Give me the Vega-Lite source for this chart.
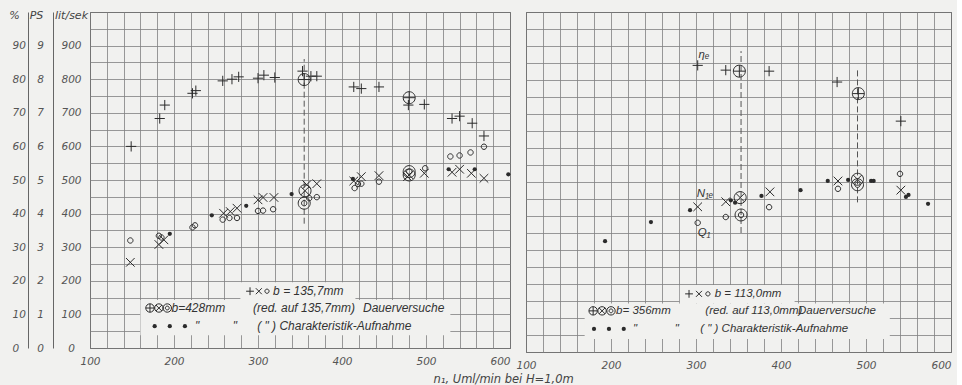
{
  "$schema": "https://vega.github.io/schema/vega-lite/v6.json",
  "background": "#f1f1ef",
  "padding": {"left": 8, "top": 6, "right": 5, "bottom": 2},
  "spacing": 16,
  "bounds": "flush",
  "config": {
    "view": {"stroke": "#444", "strokeWidth": 1},
    "axis": {"labelFont": "DejaVu Sans", "labelFontStyle": "italic", "labelColor": "#555", "labelFontSize": 10.5, "ticks": false, "domain": false, "gridColor": "#808080", "gridWidth": 0.8, "gridOpacity": 1, "titleFont": "DejaVu Sans", "titleFontStyle": "italic", "titleFontWeight": "normal", "titleColor": "#444", "titleFontSize": 11, "labelOverlap": false},
    "text": {"font": "Liberation Sans", "fontStyle": "italic", "color": "#333"}
  },
  "datasets": {
    "Lpts": [
      {"s": "plus", "n": 149, "v": 600}, {"s": "plus", "n": 183, "v": 683}, {"s": "plus", "n": 189, "v": 723}, {"s": "plus", "n": 222, "v": 758}, {"s": "plus", "n": 226, "v": 766}, {"s": "plus", "n": 258, "v": 795}, {"s": "plus", "n": 269, "v": 800}, {"s": "plus", "n": 277, "v": 807}, {"s": "plus", "n": 300, "v": 803}, {"s": "plus", "n": 307, "v": 812}, {"s": "plus", "n": 320, "v": 805}, {"s": "plus", "n": 353, "v": 824}, {"s": "plus", "n": 363, "v": 809}, {"s": "plus", "n": 370, "v": 809}, {"s": "plus", "n": 414, "v": 777}, {"s": "plus", "n": 423, "v": 772}, {"s": "plus", "n": 444, "v": 777}, {"s": "plus", "n": 479, "v": 723}, {"s": "plus", "n": 498, "v": 725}, {"s": "plus", "n": 531, "v": 683}, {"s": "plus", "n": 540, "v": 690}, {"s": "plus", "n": 555, "v": 669}, {"s": "plus", "n": 569, "v": 631},
      {"s": "oplus", "n": 355, "v": 799}, {"s": "oplus", "n": 480, "v": 745},
      {"s": "x", "n": 148, "v": 255}, {"s": "x", "n": 182, "v": 308}, {"s": "x", "n": 188, "v": 322}, {"s": "x", "n": 259, "v": 401}, {"s": "x", "n": 267, "v": 406}, {"s": "x", "n": 275, "v": 416}, {"s": "x", "n": 300, "v": 441}, {"s": "x", "n": 306, "v": 448}, {"s": "x", "n": 319, "v": 448}, {"s": "x", "n": 358, "v": 486}, {"s": "x", "n": 370, "v": 489}, {"s": "x", "n": 414, "v": 497}, {"s": "x", "n": 423, "v": 510}, {"s": "x", "n": 444, "v": 513}, {"s": "x", "n": 478, "v": 510}, {"s": "x", "n": 498, "v": 520}, {"s": "x", "n": 531, "v": 523}, {"s": "x", "n": 540, "v": 532}, {"s": "x", "n": 554, "v": 520}, {"s": "x", "n": 569, "v": 505},
      {"s": "otimes", "n": 356, "v": 468}, {"s": "otimes", "n": 480, "v": 515},
      {"s": "odot", "n": 355, "v": 431}, {"s": "odot", "n": 480, "v": 525},
      {"s": "o", "n": 148, "v": 320}, {"s": "o", "n": 182, "v": 334}, {"s": "o", "n": 185, "v": 329}, {"s": "o", "n": 222, "v": 359}, {"s": "o", "n": 225, "v": 365}, {"s": "o", "n": 258, "v": 382}, {"s": "o", "n": 266, "v": 387}, {"s": "o", "n": 275, "v": 387}, {"s": "o", "n": 300, "v": 408}, {"s": "o", "n": 306, "v": 409}, {"s": "o", "n": 318, "v": 413}, {"s": "o", "n": 361, "v": 446}, {"s": "o", "n": 370, "v": 449}, {"s": "o", "n": 415, "v": 476}, {"s": "o", "n": 419, "v": 488}, {"s": "o", "n": 423, "v": 489}, {"s": "o", "n": 444, "v": 495}, {"s": "o", "n": 499, "v": 535}, {"s": "o", "n": 529, "v": 570}, {"s": "o", "n": 540, "v": 573}, {"s": "o", "n": 553, "v": 582}, {"s": "o", "n": 569, "v": 599},
      {"s": "dot", "n": 195, "v": 340}, {"s": "dot", "n": 245, "v": 395}, {"s": "dot", "n": 286, "v": 423}, {"s": "dot", "n": 340, "v": 458}, {"s": "dot", "n": 413, "v": 503}, {"s": "dot", "n": 527, "v": 532}, {"s": "dot", "n": 558, "v": 532}, {"s": "dot", "n": 598, "v": 517},
      {"s": "plusS", "n": 290.5, "v": 169}, {"s": "xS", "n": 301, "v": 169}, {"s": "oS", "n": 310.7, "v": 169},
      {"s": "oplusS", "n": 171.4, "v": 119}, {"s": "otimesS", "n": 182, "v": 119}, {"s": "odotS", "n": 192, "v": 119},
      {"s": "dot", "n": 177, "v": 65}, {"s": "dot", "n": 195, "v": 65}, {"s": "dot", "n": 213, "v": 65}
    ],
    "Rpts": [
      {"s": "plus", "n": 302, "v": 843}, {"s": "plus", "n": 335, "v": 829}, {"s": "plus", "n": 386, "v": 826}, {"s": "plus", "n": 466, "v": 794}, {"s": "plus", "n": 541, "v": 679},
      {"s": "oplus", "n": 351, "v": 826}, {"s": "oplus", "n": 491, "v": 760},
      {"s": "x", "n": 302, "v": 427}, {"s": "x", "n": 335, "v": 442}, {"s": "x", "n": 387, "v": 471}, {"s": "x", "n": 467, "v": 503}, {"s": "x", "n": 541, "v": 476},
      {"s": "otimes", "n": 352, "v": 454}, {"s": "otimes", "n": 490, "v": 508},
      {"s": "odot", "n": 353, "v": 403}, {"s": "odot", "n": 490, "v": 492},
      {"s": "o", "n": 302, "v": 380}, {"s": "o", "n": 335, "v": 397}, {"s": "o", "n": 386, "v": 426}, {"s": "o", "n": 467, "v": 480}, {"s": "o", "n": 540, "v": 524},
      {"s": "dot", "n": 193, "v": 326}, {"s": "dot", "n": 247, "v": 382}, {"s": "dot", "n": 293, "v": 417}, {"s": "dot", "n": 341, "v": 446}, {"s": "dot", "n": 346, "v": 439}, {"s": "dot", "n": 377, "v": 459}, {"s": "dot", "n": 423, "v": 476}, {"s": "dot", "n": 455, "v": 503}, {"s": "dot", "n": 479, "v": 506}, {"s": "dot", "n": 506, "v": 503}, {"s": "dot", "n": 509, "v": 503}, {"s": "dot", "n": 547, "v": 456}, {"s": "dot", "n": 550, "v": 462}, {"s": "dot", "n": 573, "v": 436},
      {"s": "plusS", "n": 291.8, "v": 171}, {"s": "xS", "n": 303.5, "v": 171}, {"s": "oS", "n": 314, "v": 171},
      {"s": "oplusS", "n": 179, "v": 121}, {"s": "otimesS", "n": 189.5, "v": 121}, {"s": "odotS", "n": 200, "v": 121},
      {"s": "dot", "n": 180, "v": 68}, {"s": "dot", "n": 197.6, "v": 68}, {"s": "dot", "n": 215, "v": 68}
    ],
    "Lrule": [{"n": 355, "v1": 370, "v2": 860}],
    "Rrule": [{"n": 353, "v1": 350, "v2": 885}, {"n": 490, "v1": 440, "v2": 830}],
    "Lbox": [{"x1": 279, "x2": 416, "y1": 143, "y2": 196}, {"x1": 160, "x2": 529, "y1": 38, "y2": 143}],
    "Rbox": [{"x1": 281, "x2": 416, "y1": 143, "y2": 197}, {"x1": 169, "x2": 528, "y1": 38, "y2": 143}],
    "Ltext": [
      {"n": 318, "v": 169, "t": "b = 135,7mm"},
      {"n": 197, "v": 119, "t": "b=428mm"}, {"n": 294, "v": 119, "t": "(red. auf 135,7mm)"}, {"n": 425, "v": 119, "t": "Dauerversuche"},
      {"n": 225, "v": 65, "t": "\""}, {"n": 270, "v": 65, "t": "\""}, {"n": 299, "v": 65, "t": "( \" ) Charakteristik-Aufnahme"}
    ],
    "Rtext": [
      {"n": 322, "v": 171, "t": "b = 113,0mm"},
      {"n": 206, "v": 121, "t": "b= 356mm"}, {"n": 311, "v": 121, "t": "(red. auf 113,0mm)"}, {"n": 420, "v": 121, "t": "Dauerversuche"},
      {"n": 226, "v": 68, "t": "\""}, {"n": 275, "v": 68, "t": "\""}, {"n": 305, "v": 68, "t": "( \" ) Charakteristik-Aufnahme"},
      {"n": 303, "v": 873, "t": "ηₑ"}, {"n": 301, "v": 465, "t": "N₁ₑ"}, {"n": 302, "v": 350, "t": "Q₁"}
    ]
  },
  "hconcat": [
    {
      "width": 420,
      "height": 336,
      "resolve": {"axis": {"x": "independent", "y": "independent"}},
      "layer": [
        {
          "data": {"name": "Lbox"},
          "mark": {"type": "rect", "fill": "#f1f1ef"},
          "encoding": {
            "x": {"field": "x1", "type": "quantitative", "scale": {"domain": [100, 600], "nice": false, "zero": false}, "axis": null},
            "x2": {"field": "x2"},
            "y": {"field": "y1", "type": "quantitative", "scale": {"domain": [0, 1000], "nice": false}, "axis": {"orient": "left", "offset": 62, "values": [0, 100, 200, 300, 400, 500, 600, 700, 800, 900], "grid": false, "domain": true, "domainColor": "#666", "labelExpr": "'' + datum.value / 10", "labelAlign": "left", "labelPadding": 16, "title": "%", "titleAngle": 0, "titleX": -14, "titleY": 3, "titleAlign": "center", "titleBaseline": "middle"}},
            "y2": {"field": "y2"}
          }
        },
        {
          "data": {"name": "Lrule"},
          "mark": {"type": "rule", "strokeDash": [6, 3], "color": "#555", "strokeWidth": 1},
          "encoding": {
            "x": {"field": "n", "type": "quantitative", "scale": {"domain": [100, 600], "nice": false, "zero": false}, "axis": null},
            "y": {"field": "v1", "type": "quantitative", "scale": {"domain": [0, 1000], "nice": false}, "axis": {"orient": "left", "offset": 37, "values": [0, 100, 200, 300, 400, 500, 600, 700, 800, 900], "grid": false, "domain": true, "domainColor": "#666", "labelExpr": "'' + datum.value / 100", "labelAlign": "center", "labelPadding": 13, "title": "PS", "titleAngle": 0, "titleX": -17, "titleY": 3, "titleAlign": "center", "titleBaseline": "middle"}},
            "y2": {"field": "v2"}
          }
        },
        {
          "data": {"name": "Ltext"},
          "mark": {"type": "text", "align": "left", "baseline": "middle", "fontSize": 12},
          "encoding": {
            "x": {"field": "n", "type": "quantitative", "scale": {"domain": [100, 600], "nice": false, "zero": false}, "axis": null},
            "y": {"field": "v", "type": "quantitative", "scale": {"domain": [0, 1000], "nice": false}, "axis": null},
            "text": {"field": "t"}
          }
        },
        {
          "data": {"name": "Lpts"},
          "transform": [{"filter": "datum.s !== 'dot'"}],
          "mark": {"type": "point", "filled": false, "stroke": "#2b2b2b", "strokeWidth": 1, "opacity": 1, "size": 144},
          "encoding": {
            "x": {"field": "n", "type": "quantitative", "scale": {"domain": [100, 600], "nice": false, "zero": false}, "axis": {"orient": "bottom", "values": [100, 120, 140, 160, 180, 200, 220, 240, 260, 280, 300, 320, 340, 360, 380, 400, 420, 440, 460, 480, 500, 520, 540, 560, 580, 600], "grid": true, "labelExpr": "datum.value % 100 === 0 ? datum.label : ''", "labelAlign": {"condition": {"test": "datum.value === 600", "value": "right"}, "value": "center"}, "labelPadding": 8, "title": "n₁, Uml/min bei H=1,0m", "titleFontSize": 11.5, "titleX": 343, "titleY": 34, "titleAlign": "left", "titleBaseline": "alphabetic"}},
            "y": {"field": "v", "type": "quantitative", "scale": {"domain": [0, 1000], "nice": false}, "axis": {"orient": "left", "values": [0, 50, 100, 150, 200, 250, 300, 350, 400, 450, 500, 550, 600, 650, 700, 750, 800, 850, 900, 950, 1000], "grid": true, "labelExpr": "datum.value % 100 === 0 && datum.value < 1000 ? datum.label : ''", "labelAlign": "center", "labelPadding": 19, "title": "lit/sek", "titleAngle": 0, "titleX": -19, "titleY": 3, "titleAlign": "center", "titleBaseline": "middle"}},
            "shape": {"field": "s", "type": "nominal", "scale": {"domain": ["plus", "x", "o", "oplus", "otimes", "odot", "plusS", "xS", "oS", "oplusS", "otimesS", "odotS"], "range": ["M-0.85,0L0.85,0M0,-0.85L0,0.85", "M-0.72,-0.72L0.72,0.72M-0.72,0.72L0.72,-0.72", "M0.45,0A0.45,0.45,0,1,1,-0.45,0A0.45,0.45,0,1,1,0.45,0Z", "M1,0A1,1,0,1,1,-1,0A1,1,0,1,1,1,0ZM-1,0L1,0M0,-1L0,1", "M1,0A1,1,0,1,1,-1,0A1,1,0,1,1,1,0ZM-0.7,-0.7L0.7,0.7M-0.7,0.7L0.7,-0.7", "M1,0A1,1,0,1,1,-1,0A1,1,0,1,1,1,0ZM0.45,0A0.45,0.45,0,1,1,-0.45,0A0.45,0.45,0,1,1,0.45,0Z", "M-0.65,0L0.65,0M0,-0.65L0,0.65", "M-0.5,-0.5L0.5,0.5M-0.5,0.5L0.5,-0.5", "M0.35,0A0.35,0.35,0,1,1,-0.35,0A0.35,0.35,0,1,1,0.35,0Z", "M0.7,0A0.7,0.7,0,1,1,-0.7,0A0.7,0.7,0,1,1,0.7,0ZM-0.7,0L0.7,0M0,-0.7L0,0.7", "M0.7,0A0.7,0.7,0,1,1,-0.7,0A0.7,0.7,0,1,1,0.7,0ZM-0.5,-0.5L0.5,0.5M-0.5,0.5L0.5,-0.5", "M0.7,0A0.7,0.7,0,1,1,-0.7,0A0.7,0.7,0,1,1,0.7,0ZM0.32,0A0.32,0.32,0,1,1,-0.32,0A0.32,0.32,0,1,1,0.32,0Z"]}, "legend": null}
          }
        },
        {
          "data": {"name": "Lpts"},
          "transform": [{"filter": "datum.s === 'dot'"}],
          "mark": {"type": "circle", "size": 18, "color": "#2b2b2b", "opacity": 1},
          "encoding": {
            "x": {"field": "n", "type": "quantitative", "scale": {"domain": [100, 600], "nice": false, "zero": false}, "axis": null},
            "y": {"field": "v", "type": "quantitative", "scale": {"domain": [0, 1000], "nice": false}, "axis": null}
          }
        }
      ]
    },
    {
      "width": 425,
      "height": 340,
      "resolve": {"axis": {"x": "independent", "y": "independent"}},
      "layer": [
        {
          "data": {"name": "Rbox"},
          "mark": {"type": "rect", "fill": "#f1f1ef"},
          "encoding": {
            "x": {"field": "x1", "type": "quantitative", "scale": {"domain": [100, 600], "nice": false, "zero": false}, "axis": null},
            "x2": {"field": "x2"},
            "y": {"field": "y1", "type": "quantitative", "scale": {"domain": [0, 1000], "nice": false}, "axis": null},
            "y2": {"field": "y2"}
          }
        },
        {
          "data": {"name": "Rrule"},
          "mark": {"type": "rule", "strokeDash": [6, 3], "color": "#555", "strokeWidth": 1},
          "encoding": {
            "x": {"field": "n", "type": "quantitative", "scale": {"domain": [100, 600], "nice": false, "zero": false}, "axis": null},
            "y": {"field": "v1", "type": "quantitative", "scale": {"domain": [0, 1000], "nice": false}, "axis": null},
            "y2": {"field": "v2"}
          }
        },
        {
          "data": {"name": "Rtext"},
          "mark": {"type": "text", "align": "left", "baseline": "middle", "fontSize": 11.5},
          "encoding": {
            "x": {"field": "n", "type": "quantitative", "scale": {"domain": [100, 600], "nice": false, "zero": false}, "axis": null},
            "y": {"field": "v", "type": "quantitative", "scale": {"domain": [0, 1000], "nice": false}, "axis": null},
            "text": {"field": "t"}
          }
        },
        {
          "data": {"name": "Rpts"},
          "transform": [{"filter": "datum.s !== 'dot'"}],
          "mark": {"type": "point", "filled": false, "stroke": "#2b2b2b", "strokeWidth": 1, "opacity": 1, "size": 144},
          "encoding": {
            "x": {"field": "n", "type": "quantitative", "scale": {"domain": [100, 600], "nice": false, "zero": false}, "axis": {"orient": "bottom", "values": [100, 120, 140, 160, 180, 200, 220, 240, 260, 280, 300, 320, 340, 360, 380, 400, 420, 440, 460, 480, 500, 520, 540, 560, 580, 600], "grid": true, "labelExpr": "datum.value % 100 === 0 ? datum.label : ''", "labelAlign": {"condition": {"test": "datum.value === 600", "value": "right"}, "value": "center"}, "labelPadding": 8, "title": null}},
            "y": {"field": "v", "type": "quantitative", "scale": {"domain": [0, 1000], "nice": false}, "axis": {"orient": "left", "values": [0, 50, 100, 150, 200, 250, 300, 350, 400, 450, 500, 550, 600, 650, 700, 750, 800, 850, 900, 950, 1000], "grid": true, "labels": false, "title": null}},
            "shape": {"field": "s", "type": "nominal", "scale": {"domain": ["plus", "x", "o", "oplus", "otimes", "odot", "plusS", "xS", "oS", "oplusS", "otimesS", "odotS"], "range": ["M-0.85,0L0.85,0M0,-0.85L0,0.85", "M-0.72,-0.72L0.72,0.72M-0.72,0.72L0.72,-0.72", "M0.45,0A0.45,0.45,0,1,1,-0.45,0A0.45,0.45,0,1,1,0.45,0Z", "M1,0A1,1,0,1,1,-1,0A1,1,0,1,1,1,0ZM-1,0L1,0M0,-1L0,1", "M1,0A1,1,0,1,1,-1,0A1,1,0,1,1,1,0ZM-0.7,-0.7L0.7,0.7M-0.7,0.7L0.7,-0.7", "M1,0A1,1,0,1,1,-1,0A1,1,0,1,1,1,0ZM0.45,0A0.45,0.45,0,1,1,-0.45,0A0.45,0.45,0,1,1,0.45,0Z", "M-0.65,0L0.65,0M0,-0.65L0,0.65", "M-0.5,-0.5L0.5,0.5M-0.5,0.5L0.5,-0.5", "M0.35,0A0.35,0.35,0,1,1,-0.35,0A0.35,0.35,0,1,1,0.35,0Z", "M0.7,0A0.7,0.7,0,1,1,-0.7,0A0.7,0.7,0,1,1,0.7,0ZM-0.7,0L0.7,0M0,-0.7L0,0.7", "M0.7,0A0.7,0.7,0,1,1,-0.7,0A0.7,0.7,0,1,1,0.7,0ZM-0.5,-0.5L0.5,0.5M-0.5,0.5L0.5,-0.5", "M0.7,0A0.7,0.7,0,1,1,-0.7,0A0.7,0.7,0,1,1,0.7,0ZM0.32,0A0.32,0.32,0,1,1,-0.32,0A0.32,0.32,0,1,1,0.32,0Z"]}, "legend": null}
          }
        },
        {
          "data": {"name": "Rpts"},
          "transform": [{"filter": "datum.s === 'dot'"}],
          "mark": {"type": "circle", "size": 18, "color": "#2b2b2b", "opacity": 1},
          "encoding": {
            "x": {"field": "n", "type": "quantitative", "scale": {"domain": [100, 600], "nice": false, "zero": false}, "axis": null},
            "y": {"field": "v", "type": "quantitative", "scale": {"domain": [0, 1000], "nice": false}, "axis": null}
          }
        }
      ]
    }
  ]
}
